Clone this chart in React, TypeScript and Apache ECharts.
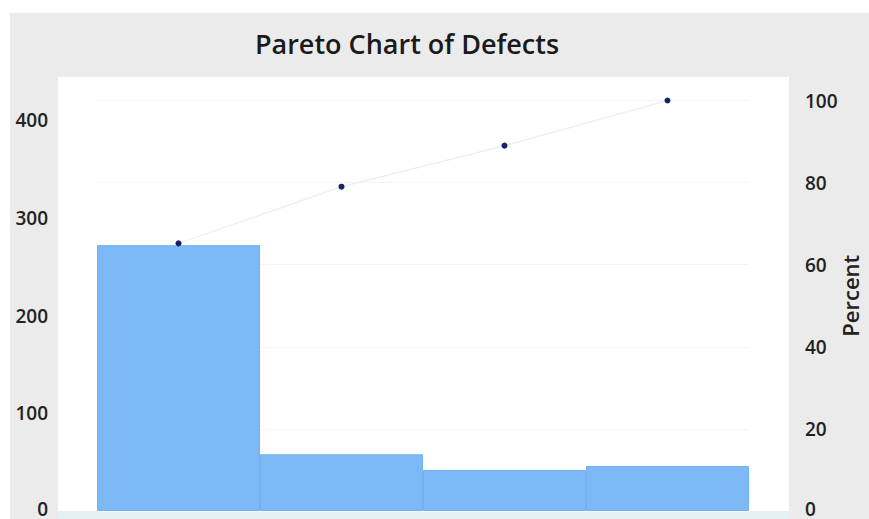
import React, { useEffect, useRef } from "react";
import * as echarts from "echarts";

const categories = ["Defect A", "Defect B", "Defect C", "Other"];
const counts = [272, 58, 42, 46];
const cumulativePercent = [65.2, 79.0, 89.0, 100];
const countAxisMax = 420;
const leftTicks = [0, 100, 200, 300, 400];
const rightTicks = [0, 20, 40, 60, 80, 100];

const FONT = "'Open Sans', 'Noto Sans', sans-serif";

const labelStyle = {
  fontFamily: FONT,
  fontSize: 19,
  lineHeight: 13,
  fontWeight: 600,
  color: "#222",
};

const zeroRich = {
  z: { ...labelStyle, padding: [0, 0, 4, 0] },
};

export default function App() {
  const ref = useRef<HTMLDivElement>(null);
  useEffect(() => {
    if (!ref.current) return;
    const chart = echarts.init(ref.current, undefined, { renderer: "svg" });
    chart.setOption({
      animation: false,
      backgroundColor: "#ffffff",
      title: {
        text: "Pareto Chart of Defects",
        left: 402,
        top: 25,
        textAlign: "center",
        textStyle: { fontFamily: FONT, fontSize: 27, fontWeight: 600, color: "#1a1a1a" },
      },
      graphic: [
        { type: "rect", z: -20, silent: true, shape: { x: 10, y: 13, width: 880, height: 506 }, style: { fill: "#ebebeb" } },
        { type: "rect", z: -19, silent: true, shape: { x: 58, y: 77, width: 731, height: 434 }, style: { fill: "#ffffff" } },
        { type: "rect", z: -19, silent: true, shape: { x: 58, y: 511, width: 731, height: 8 }, style: { fill: "#e4f1f4" } },
      ],
      grid: {
        left: 97,
        width: 652,
        top: 100.5,
        height: 410.5,
        containLabel: false,
        outerBoundsMode: "none",
      },
      xAxis: {
        type: "category",
        data: categories,
        boundaryGap: true,
        axisLine: { show: false },
        axisTick: { show: false },
        axisLabel: { show: false },
      },
      yAxis: [
        {
          type: "value",
          min: leftTicks[0],
          max: countAxisMax,
          interval: 100,
          position: "left",
          axisLine: { show: false },
          axisTick: { show: false },
          splitLine: { show: false },
          axisLabel: {
            ...labelStyle,
            margin: 49,
            showMaxLabel: false,
            rich: zeroRich,
            formatter: (v: number) =>
              v === 0 ? "{z|0}" : leftTicks.includes(v) ? String(v) : "",
          },
        },
        {
          type: "value",
          min: rightTicks[0],
          max: rightTicks[rightTicks.length - 1],
          interval: 20,
          position: "right",
          name: "Percent",
          nameLocation: "middle",
          nameRotate: 90,
          nameGap: 90,
          nameMoveOverlap: false,
          nameTextStyle: {
            fontFamily: FONT,
            fontSize: 22,
            fontWeight: 600,
            color: "#222",
            padding: [0, 0, 0, 20],
          },
          axisLine: { show: false },
          axisTick: { show: false },
          splitLine: { show: true, lineStyle: { color: "#f4f4f4", width: 1 } },
          axisLabel: {
            ...labelStyle,
            margin: 56,
            rich: zeroRich,
            formatter: (v: number) => (v === 0 ? "{z|0}" : String(v)),
          },
        },
      ],
      series: [
        {
          type: "bar",
          data: counts,
          yAxisIndex: 0,
          barCategoryGap: "0%",
          barWidth: "100%",
          itemStyle: { color: "#7db9f6", borderColor: "#74b1ee", borderWidth: 1 },
          z: 2,
        },
        {
          type: "line",
          data: cumulativePercent,
          yAxisIndex: 1,
          symbol: "circle",
          symbolSize: 6,
          itemStyle: { color: "#16216b" },
          lineStyle: { color: "#f0f0f0", width: 1.5 },
          z: 3,
        },
      ],
    });
    return () => chart.dispose();
  }, []);
  return (
    <div
      ref={ref}
      style={{ position: "absolute", left: 0, top: 0, width: 869, height: 519 }}
    />
  );
}
